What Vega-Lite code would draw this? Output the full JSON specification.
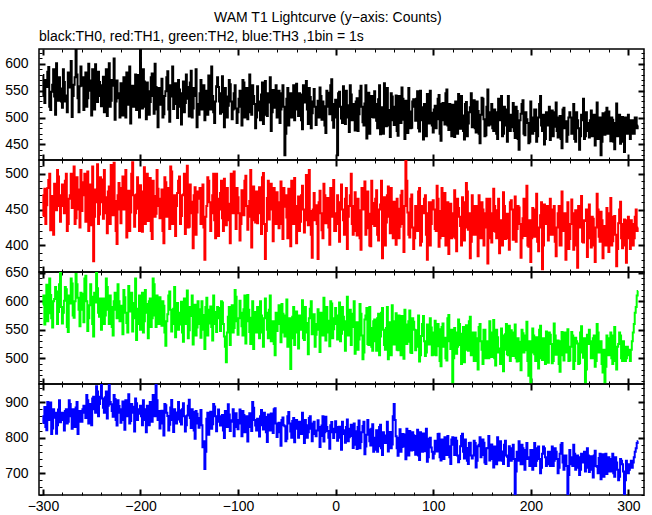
{
"$schema": "https://vega.github.io/schema/vega-lite/v6.json",
"background": "white",
"padding": {"left": 3, "top": 11, "right": 6, "bottom": 2},
"title": {"text": "WAM T1 Lightcurve (y−axis: Counts)", "anchor": "middle", "frame": "bounds", "font": "Liberation Sans", "fontSize": 14, "fontWeight": "normal", "color": "black", "offset": 4, "dx": 3},
"data": {"values": [
{"t":-300,"a":579,"b":441,"c":594,"d":841},{"t":-299,"a":540,"b":470,"c":610,"d":860},{"t":-298,"a":527,"b":479,"c":559,"d":886},{"t":-297,"a":570,"b":430,"c":580,"d":830},{"t":-296,"a":557,"b":456,"c":629,"d":821},{"t":-295,"a":585,"b":480,"c":565,"d":900},{"t":-294,"a":594,"b":491,"c":579,"d":871},{"t":-293,"a":520,"b":500,"c":640,"d":850},{"t":-292,"a":514,"b":421,"c":611,"d":899},{"t":-291,"a":548,"b":445,"c":570,"d":810},
{"t":-290,"a":561,"b":469,"c":554,"d":826},{"t":-289,"a":590,"b":415,"c":600,"d":880},{"t":-288,"a":539,"b":486,"c":604,"d":856},{"t":-287,"a":505,"b":462,"c":625,"d":870},{"t":-286,"a":601,"b":449,"c":617,"d":811},{"t":-285,"a":566,"b":505,"c":560,"d":835},{"t":-284,"a":531,"b":496,"c":581,"d":879},{"t":-283,"a":575,"b":455,"c":630,"d":905},{"t":-282,"a":554,"b":433,"c":651,"d":843},{"t":-281,"a":530,"b":470,"c":590,"d":860},
{"t":-280,"a":518,"b":485,"c":561,"d":870},{"t":-279,"a":590,"b":455,"c":580,"d":850},{"t":-278,"a":566,"b":445,"c":601,"d":820},{"t":-277,"a":530,"b":490,"c":625,"d":875},{"t":-276,"a":541,"b":500,"c":621,"d":880},{"t":-275,"a":510,"b":420,"c":555,"d":840},{"t":-274,"a":584,"b":430,"c":546,"d":845},{"t":-273,"a":560,"b":465,"c":610,"d":905},{"t":-272,"a":556,"b":470,"c":596,"d":895},{"t":-271,"a":605,"b":500,"c":640,"d":860},
{"t":-270,"a":501,"b":452,"c":631,"d":825},{"t":-269,"a":540,"b":475,"c":575,"d":880},{"t":-268,"a":561,"b":510,"c":571,"d":865},{"t":-267,"a":575,"b":430,"c":600,"d":830},{"t":-266,"a":628,"b":438,"c":648,"d":885},{"t":-265,"a":580,"b":495,"c":630,"d":900},{"t":-264,"a":536,"b":478,"c":606,"d":810},{"t":-263,"a":510,"b":450,"c":585,"d":870},{"t":-262,"a":558,"b":425,"c":556,"d":875},{"t":-261,"a":595,"b":505,"c":615,"d":845},
{"t":-260,"a":559,"b":448,"c":613,"d":845},{"t":-259,"a":575,"b":470,"c":585,"d":880},{"t":-258,"a":514,"b":488,"c":563,"d":890},{"t":-257,"a":545,"b":500,"c":640,"d":870},{"t":-256,"a":584,"b":433,"c":645,"d":855},{"t":-255,"a":520,"b":455,"c":600,"d":920},{"t":-254,"a":536,"b":503,"c":548,"d":905},{"t":-253,"a":600,"b":420,"c":570,"d":840},{"t":-252,"a":569,"b":463,"c":593,"d":875},{"t":-251,"a":550,"b":485,"c":630,"d":895},
{"t":-250,"a":504,"b":428,"c":608,"d":835},{"t":-249,"a":590,"b":510,"c":560,"d":910},{"t":-248,"a":552,"b":378,"c":538,"d":915},{"t":-247,"a":515,"b":440,"c":615,"d":880},{"t":-246,"a":599,"b":478,"c":598,"d":870},{"t":-245,"a":560,"b":460,"c":650,"d":945},{"t":-244,"a":529,"b":513,"c":623,"d":930},{"t":-243,"a":585,"b":430,"c":580,"d":860},{"t":-242,"a":566,"b":443,"c":573,"d":895},{"t":-241,"a":540,"b":495,"c":605,"d":915},
{"t":-240,"a":521,"b":492,"c":550,"d":949},{"t":-239,"a":560,"b":460,"c":595,"d":910},{"t":-238,"a":576,"b":437,"c":605,"d":884},{"t":-237,"a":510,"b":505,"c":560,"d":870},{"t":-236,"a":546,"b":467,"c":575,"d":914},{"t":-235,"a":590,"b":445,"c":640,"d":930},{"t":-234,"a":503,"b":417,"c":625,"d":854},{"t":-233,"a":555,"b":475,"c":585,"d":890},{"t":-232,"a":601,"b":482,"c":560,"d":954},{"t":-231,"a":520,"b":430,"c":610,"d":900},
{"t":-230,"a":531,"b":512,"c":590,"d":894},{"t":-229,"a":570,"b":490,"c":555,"d":875},{"t":-228,"a":559,"b":442,"c":540,"d":859},{"t":-227,"a":610,"b":515,"c":600,"d":920},{"t":-226,"a":496,"b":462,"c":615,"d":909},{"t":-225,"a":530,"b":420,"c":585,"d":850},{"t":-224,"a":569,"b":402,"c":570,"d":834},{"t":-223,"a":545,"b":470,"c":630,"d":905},{"t":-222,"a":536,"b":487,"c":600,"d":889},{"t":-221,"a":500,"b":450,"c":565,"d":870},
{"t":-220,"a":564,"b":431,"c":592,"d":842},{"t":-219,"a":530,"b":480,"c":565,"d":880},{"t":-218,"a":504,"b":496,"c":542,"d":902},{"t":-217,"a":575,"b":450,"c":620,"d":850},{"t":-216,"a":549,"b":466,"c":607,"d":822},{"t":-215,"a":500,"b":505,"c":580,"d":905},{"t":-214,"a":584,"b":411,"c":562,"d":877},{"t":-213,"a":560,"b":440,"c":545,"d":860},{"t":-212,"a":524,"b":476,"c":627,"d":922},{"t":-211,"a":595,"b":420,"c":600,"d":840},
{"t":-210,"a":489,"b":446,"c":582,"d":847},{"t":-209,"a":540,"b":500,"c":615,"d":895},{"t":-208,"a":559,"b":516,"c":547,"d":887},{"t":-207,"a":520,"b":470,"c":570,"d":870},{"t":-206,"a":544,"b":426,"c":597,"d":817},{"t":-205,"a":580,"b":445,"c":640,"d":910},{"t":-204,"a":514,"b":471,"c":532,"d":897},{"t":-203,"a":555,"b":495,"c":560,"d":850},{"t":-202,"a":579,"b":451,"c":587,"d":867},{"t":-201,"a":500,"b":420,"c":610,"d":880},
{"t":-200,"a":627,"b":484,"c":550,"d":890},{"t":-199,"a":545,"b":450,"c":590,"d":860},{"t":-198,"a":517,"b":419,"c":615,"d":835},{"t":-197,"a":590,"b":475,"c":545,"d":905},{"t":-196,"a":567,"b":509,"c":565,"d":880},{"t":-195,"a":520,"b":430,"c":620,"d":850},{"t":-194,"a":497,"b":459,"c":595,"d":815},{"t":-193,"a":565,"b":500,"c":580,"d":890},{"t":-192,"a":549,"b":434,"c":535,"d":870},{"t":-191,"a":505,"b":465,"c":600,"d":835},
{"t":-190,"a":529,"b":494,"c":605,"d":900},{"t":-189,"a":575,"b":420,"c":555,"d":880},{"t":-188,"a":582,"b":409,"c":570,"d":845},{"t":-187,"a":540,"b":490,"c":640,"d":920},{"t":-186,"a":507,"b":469,"c":630,"d":885},{"t":-185,"a":600,"b":440,"c":575,"d":860},{"t":-184,"a":557,"b":444,"c":555,"d":950},{"t":-183,"a":515,"b":505,"c":610,"d":905},{"t":-182,"a":482,"b":479,"c":585,"d":850},{"t":-181,"a":555,"b":455,"c":560,"d":875},
{"t":-180,"a":524,"b":438,"c":607,"d":826},{"t":-179,"a":555,"b":465,"c":580,"d":860},{"t":-178,"a":572,"b":478,"c":557,"d":876},{"t":-177,"a":500,"b":420,"c":600,"d":840},{"t":-176,"a":506,"b":403,"c":592,"d":806},{"t":-175,"a":540,"b":495,"c":545,"d":895},{"t":-174,"a":549,"b":488,"c":522,"d":891},{"t":-173,"a":575,"b":440,"c":565,"d":870},{"t":-172,"a":586,"b":463,"c":577,"d":861},{"t":-171,"a":515,"b":480,"c":610,"d":820},
{"t":-170,"a":492,"b":423,"c":617,"d":836},{"t":-169,"a":560,"b":510,"c":585,"d":885},{"t":-168,"a":539,"b":503,"c":547,"d":906},{"t":-167,"a":595,"b":430,"c":560,"d":850},{"t":-166,"a":516,"b":448,"c":587,"d":816},{"t":-165,"a":525,"b":470,"c":625,"d":880},{"t":-164,"a":564,"b":413,"c":537,"d":871},{"t":-163,"a":545,"b":455,"c":575,"d":840},{"t":-162,"a":499,"b":473,"c":597,"d":851},{"t":-161,"a":570,"b":490,"c":550,"d":900},
{"t":-160,"a":552,"b":496,"c":559,"d":877},{"t":-159,"a":520,"b":430,"c":580,"d":845},{"t":-158,"a":487,"b":441,"c":599,"d":837},{"t":-157,"a":545,"b":470,"c":545,"d":880},{"t":-156,"a":567,"b":471,"c":529,"d":897},{"t":-155,"a":510,"b":500,"c":605,"d":860},{"t":-154,"a":527,"b":416,"c":584,"d":817},{"t":-153,"a":580,"b":455,"c":560,"d":835},{"t":-152,"a":557,"b":511,"c":619,"d":862},{"t":-151,"a":535,"b":425,"c":535,"d":890},
{"t":-150,"a":502,"b":426,"c":549,"d":907},{"t":-149,"a":565,"b":485,"c":590,"d":855},{"t":-148,"a":587,"b":461,"c":574,"d":827},{"t":-147,"a":500,"b":445,"c":610,"d":880},{"t":-146,"a":517,"b":396,"c":524,"d":872},{"t":-145,"a":555,"b":470,"c":560,"d":820},{"t":-144,"a":540,"b":481,"c":594,"d":797},{"t":-143,"a":590,"b":415,"c":540,"d":875},{"t":-142,"a":482,"b":446,"c":554,"d":867},{"t":-141,"a":525,"b":475,"c":600,"d":840},
{"t":-140,"a":505,"b":465,"c":586,"d":828},{"t":-139,"a":545,"b":480,"c":560,"d":855},{"t":-138,"a":570,"b":430,"c":536,"d":878},{"t":-137,"a":515,"b":455,"c":600,"d":835},{"t":-136,"a":535,"b":485,"c":576,"d":773},{"t":-135,"a":560,"b":425,"c":550,"d":790},{"t":-134,"a":495,"b":380,"c":516,"d":712},{"t":-133,"a":525,"b":440,"c":590,"d":760},{"t":-132,"a":550,"b":455,"c":606,"d":853},{"t":-131,"a":505,"b":495,"c":540,"d":870},
{"t":-130,"a":578,"b":490,"c":561,"d":808},{"t":-129,"a":540,"b":460,"c":585,"d":840},{"t":-128,"a":515,"b":420,"c":591,"d":873},{"t":-127,"a":595,"b":445,"c":555,"d":825},{"t":-126,"a":540,"b":470,"c":531,"d":838},{"t":-125,"a":510,"b":500,"c":610,"d":895},{"t":-124,"a":490,"b":435,"c":581,"d":888},{"t":-123,"a":530,"b":410,"c":560,"d":860},{"t":-122,"a":558,"b":500,"c":546,"d":818},{"t":-121,"a":575,"b":465,"c":590,"d":845},
{"t":-120,"a":557,"b":413,"c":588,"d":879},{"t":-119,"a":530,"b":450,"c":570,"d":860},{"t":-118,"a":507,"b":473,"c":548,"d":834},{"t":-117,"a":545,"b":490,"c":600,"d":855},{"t":-116,"a":577,"b":438,"c":598,"d":864},{"t":-115,"a":510,"b":420,"c":560,"d":820},{"t":-114,"a":482,"b":493,"c":538,"d":799},{"t":-113,"a":555,"b":465,"c":520,"d":875},{"t":-112,"a":539,"b":428,"c":493,"d":859},{"t":-111,"a":500,"b":480,"c":545,"d":830},
{"t":-110,"a":522,"b":458,"c":573,"d":894},{"t":-109,"a":570,"b":435,"c":590,"d":865},{"t":-108,"a":562,"b":403,"c":523,"d":819},{"t":-107,"a":530,"b":500,"c":575,"d":845},{"t":-106,"a":497,"b":478,"c":593,"d":849},{"t":-105,"a":515,"b":445,"c":545,"d":880},{"t":-104,"a":545,"b":503,"c":553,"d":804},{"t":-103,"a":560,"b":465,"c":620,"d":830},{"t":-102,"a":517,"b":423,"c":608,"d":869},{"t":-101,"a":490,"b":480,"c":565,"d":850},
{"t":-100,"a":510,"b":467,"c":541,"d":824},{"t":-99,"a":535,"b":445,"c":570,"d":850},{"t":-98,"a":550,"b":407,"c":601,"d":879},{"t":-97,"a":520,"b":430,"c":580,"d":840},{"t":-96,"a":485,"b":477,"c":556,"d":804},{"t":-95,"a":570,"b":470,"c":540,"d":875},{"t":-94,"a":565,"b":442,"c":586,"d":864},{"t":-93,"a":500,"b":490,"c":610,"d":815},{"t":-92,"a":530,"b":497,"c":526,"d":844},{"t":-91,"a":555,"b":455,"c":565,"d":860},
{"t":-90,"a":497,"b":422,"c":611,"d":789},{"t":-89,"a":545,"b":440,"c":585,"d":830},{"t":-88,"a":580,"b":462,"c":546,"d":869},{"t":-87,"a":510,"b":505,"c":525,"d":855},{"t":-86,"a":505,"b":397,"c":571,"d":819},{"t":-85,"a":560,"b":435,"c":600,"d":900},{"t":-84,"a":540,"b":482,"c":516,"d":884},{"t":-83,"a":525,"b":460,"c":555,"d":850},{"t":-82,"a":480,"b":432,"c":581,"d":834},{"t":-81,"a":500,"b":475,"c":545,"d":820},
{"t":-80,"a":558,"b":431,"c":590,"d":853},{"t":-79,"a":530,"b":460,"c":560,"d":830},{"t":-78,"a":513,"b":481,"c":535,"d":803},{"t":-77,"a":495,"b":445,"c":600,"d":860},{"t":-76,"a":543,"b":416,"c":575,"d":878},{"t":-75,"a":565,"b":495,"c":545,"d":835},{"t":-74,"a":488,"b":501,"c":520,"d":823},{"t":-73,"a":520,"b":430,"c":570,"d":870},{"t":-72,"a":568,"b":381,"c":605,"d":858},{"t":-71,"a":505,"b":420,"c":580,"d":815},
{"t":-70,"a":503,"b":466,"c":550,"d":788},{"t":-69,"a":545,"b":490,"c":535,"d":865},{"t":-68,"a":528,"b":436,"c":585,"d":843},{"t":-67,"a":575,"b":470,"c":610,"d":820},{"t":-66,"a":475,"b":486,"c":530,"d":868},{"t":-65,"a":510,"b":450,"c":560,"d":845},{"t":-64,"a":551,"b":406,"c":565,"d":813},{"t":-63,"a":530,"b":480,"c":525,"d":880},{"t":-62,"a":518,"b":456,"c":505,"d":883},{"t":-61,"a":560,"b":430,"c":580,"d":840},
{"t":-60,"a":500,"b":474,"c":548,"d":802},{"t":-59,"a":530,"b":445,"c":570,"d":830},{"t":-58,"a":550,"b":424,"c":593,"d":842},{"t":-57,"a":490,"b":460,"c":560,"d":815},{"t":-56,"a":515,"b":489,"c":528,"d":777},{"t":-55,"a":545,"b":430,"c":595,"d":850},{"t":-54,"a":560,"b":409,"c":578,"d":857},{"t":-53,"a":520,"b":480,"c":545,"d":835},{"t":-52,"a":430,"b":454,"c":538,"d":832},{"t":-51,"a":470,"b":470,"c":575,"d":790},
{"t":-50,"a":535,"b":439,"c":603,"d":797},{"t":-49,"a":555,"b":410,"c":520,"d":860},{"t":-48,"a":485,"b":479,"c":553,"d":872},{"t":-47,"a":510,"b":455,"c":570,"d":840},{"t":-46,"a":545,"b":399,"c":481,"d":817},{"t":-45,"a":500,"b":490,"c":535,"d":800},{"t":-44,"a":525,"b":464,"c":573,"d":847},{"t":-43,"a":560,"b":430,"c":590,"d":855},{"t":-42,"a":495,"b":494,"c":523,"d":787},{"t":-41,"a":515,"b":450,"c":560,"d":830},
{"t":-40,"a":563,"b":403,"c":582,"d":850},{"t":-39,"a":525,"b":455,"c":545,"d":825},{"t":-38,"a":503,"b":468,"c":517,"d":800},{"t":-37,"a":545,"b":420,"c":575,"d":845},{"t":-36,"a":543,"b":433,"c":567,"d":830},{"t":-35,"a":495,"b":470,"c":550,"d":810},{"t":-34,"a":478,"b":483,"c":602,"d":870},{"t":-33,"a":560,"b":450,"c":535,"d":835},{"t":-32,"a":528,"b":418,"c":532,"d":785},{"t":-31,"a":540,"b":435,"c":590,"d":850},
{"t":-30,"a":568,"b":498,"c":562,"d":835},{"t":-29,"a":515,"b":470,"c":545,"d":800},{"t":-28,"a":488,"b":428,"c":507,"d":815},{"t":-27,"a":555,"b":505,"c":570,"d":855},{"t":-26,"a":538,"b":448,"c":587,"d":860},{"t":-25,"a":480,"b":415,"c":600,"d":825},{"t":-24,"a":508,"b":383,"c":542,"d":790},{"t":-23,"a":530,"b":450,"c":555,"d":840},{"t":-22,"a":553,"b":473,"c":577,"d":845},{"t":-21,"a":520,"b":435,"c":520,"d":810},
{"t":-20,"a":486,"b":456,"c":541,"d":804},{"t":-19,"a":520,"b":430,"c":560,"d":820},{"t":-18,"a":531,"b":381,"c":586,"d":849},{"t":-17,"a":500,"b":460,"c":550,"d":830},{"t":-16,"a":556,"b":476,"c":511,"d":774},{"t":-15,"a":540,"b":445,"c":580,"d":805},{"t":-14,"a":496,"b":421,"c":571,"d":834},{"t":-13,"a":530,"b":410,"c":540,"d":860},{"t":-12,"a":521,"b":486,"c":606,"d":789},{"t":-11,"a":485,"b":470,"c":565,"d":815},
{"t":-10,"a":471,"b":431,"c":531,"d":859},{"t":-9,"a":550,"b":455,"c":590,"d":830},{"t":-8,"a":546,"b":466,"c":566,"d":819},{"t":-7,"a":520,"b":425,"c":545,"d":800},{"t":-6,"a":506,"b":401,"c":521,"d":769},{"t":-5,"a":560,"b":480,"c":600,"d":835},{"t":-4,"a":571,"b":451,"c":596,"d":844},{"t":-3,"a":495,"b":440,"c":535,"d":815},{"t":-2,"a":481,"b":491,"c":551,"d":799},{"t":-1,"a":525,"b":420,"c":570,"d":825},
{"t":0,"a":533,"b":420,"c":588,"d":846},{"t":1,"a":500,"b":445,"c":560,"d":815},{"t":2,"a":430,"b":470,"c":533,"d":791},{"t":3,"a":545,"b":430,"c":575,"d":830},{"t":4,"a":548,"b":405,"c":598,"d":831},{"t":5,"a":520,"b":460,"c":530,"d":800},{"t":6,"a":498,"b":485,"c":543,"d":766},{"t":7,"a":490,"b":450,"c":590,"d":845},{"t":8,"a":558,"b":435,"c":573,"d":821},{"t":9,"a":530,"b":415,"c":550,"d":810},
{"t":10,"a":488,"b":465,"c":513,"d":786},{"t":11,"a":550,"b":480,"c":565,"d":830},{"t":12,"a":523,"b":395,"c":608,"d":851},{"t":13,"a":500,"b":440,"c":540,"d":790},{"t":14,"a":473,"b":455,"c":563,"d":801},{"t":15,"a":560,"b":470,"c":585,"d":825},{"t":16,"a":543,"b":500,"c":523,"d":836},{"t":17,"a":495,"b":430,"c":555,"d":805},{"t":18,"a":518,"b":415,"c":578,"d":771},{"t":19,"a":525,"b":455,"c":600,"d":840},
{"t":20,"a":476,"b":474,"c":508,"d":818},{"t":21,"a":530,"b":420,"c":560,"d":780},{"t":22,"a":536,"b":414,"c":563,"d":768},{"t":23,"a":475,"b":465,"c":515,"d":830},{"t":24,"a":506,"b":449,"c":533,"d":848},{"t":25,"a":550,"b":410,"c":595,"d":770},{"t":26,"a":559,"b":394,"c":578,"d":788},{"t":27,"a":520,"b":480,"c":540,"d":815},{"t":28,"a":491,"b":464,"c":498,"d":833},{"t":29,"a":485,"b":450,"c":510,"d":845},
{"t":30,"a":526,"b":489,"c":568,"d":753},{"t":31,"a":560,"b":415,"c":575,"d":775},{"t":32,"a":461,"b":424,"c":588,"d":808},{"t":33,"a":535,"b":475,"c":525,"d":850},{"t":34,"a":546,"b":444,"c":523,"d":823},{"t":35,"a":470,"b":400,"c":590,"d":790},{"t":36,"a":501,"b":399,"c":553,"d":778},{"t":37,"a":540,"b":490,"c":520,"d":825},{"t":38,"a":531,"b":459,"c":513,"d":838},{"t":39,"a":500,"b":430,"c":565,"d":760},
{"t":40,"a":549,"b":427,"c":568,"d":766},{"t":41,"a":525,"b":465,"c":530,"d":800},{"t":42,"a":494,"b":477,"c":513,"d":821},{"t":43,"a":480,"b":415,"c":570,"d":760},{"t":44,"a":534,"b":407,"c":578,"d":776},{"t":45,"a":560,"b":450,"c":505,"d":830},{"t":46,"a":469,"b":457,"c":538,"d":836},{"t":47,"a":500,"b":490,"c":580,"d":770},{"t":48,"a":519,"b":382,"c":588,"d":751},{"t":49,"a":470,"b":420,"c":550,"d":815},
{"t":50,"a":564,"b":467,"c":523,"d":806},{"t":51,"a":535,"b":400,"c":515,"d":785},{"t":52,"a":484,"b":432,"c":553,"d":796},{"t":53,"a":555,"b":470,"c":590,"d":845},{"t":54,"a":514,"b":482,"c":498,"d":761},{"t":55,"a":485,"b":440,"c":535,"d":805},{"t":56,"a":464,"b":417,"c":563,"d":816},{"t":57,"a":545,"b":480,"c":505,"d":770},{"t":58,"a":539,"b":447,"c":593,"d":781},{"t":59,"a":495,"b":410,"c":565,"d":860},
{"t":60,"a":486,"b":461,"c":524,"d":895},{"t":61,"a":520,"b":425,"c":555,"d":850},{"t":62,"a":541,"b":401,"c":579,"d":804},{"t":63,"a":475,"b":465,"c":515,"d":770},{"t":64,"a":466,"b":451,"c":514,"d":749},{"t":65,"a":540,"b":410,"c":575,"d":800},{"t":66,"a":521,"b":426,"c":549,"d":824},{"t":67,"a":490,"b":470,"c":505,"d":760},{"t":68,"a":556,"b":476,"c":574,"d":774},{"t":69,"a":535,"b":430,"c":550,"d":810},
{"t":70,"a":496,"b":391,"c":499,"d":809},{"t":71,"a":460,"b":455,"c":585,"d":775},{"t":72,"a":531,"b":520,"c":559,"d":739},{"t":73,"a":520,"b":490,"c":525,"d":825},{"t":74,"a":471,"b":446,"c":529,"d":799},{"t":75,"a":555,"b":415,"c":565,"d":750},{"t":76,"a":511,"b":411,"c":584,"d":819},{"t":77,"a":480,"b":465,"c":510,"d":800},{"t":78,"a":481,"b":471,"c":509,"d":764},{"t":79,"a":530,"b":425,"c":570,"d":815},
{"t":80,"a":534,"b":395,"c":564,"d":807},{"t":81,"a":520,"b":410,"c":550,"d":765},{"t":82,"a":494,"b":455,"c":514,"d":752},{"t":83,"a":535,"b":450,"c":520,"d":805},{"t":84,"a":549,"b":420,"c":549,"d":822},{"t":85,"a":480,"b":475,"c":575,"d":750},{"t":86,"a":474,"b":480,"c":494,"d":737},{"t":87,"a":550,"b":400,"c":505,"d":815},{"t":88,"a":519,"b":405,"c":539,"d":787},{"t":89,"a":495,"b":455,"c":560,"d":760},
{"t":90,"a":459,"b":445,"c":574,"d":812},{"t":91,"a":525,"b":465,"c":530,"d":790},{"t":92,"a":524,"b":470,"c":504,"d":762},{"t":93,"a":465,"b":415,"c":510,"d":825},{"t":94,"a":544,"b":380,"c":559,"d":732},{"t":95,"a":530,"b":445,"c":550,"d":745},{"t":96,"a":489,"b":460,"c":524,"d":797},{"t":97,"a":550,"b":400,"c":570,"d":800},{"t":98,"a":509,"b":430,"c":554,"d":772},{"t":99,"a":485,"b":460,"c":505,"d":760},
{"t":100,"a":472,"b":463,"c":506,"d":741},{"t":101,"a":515,"b":450,"c":545,"d":755},{"t":102,"a":522,"b":423,"c":566,"d":791},{"t":103,"a":480,"b":420,"c":505,"d":790},{"t":104,"a":497,"b":483,"c":521,"d":761},{"t":105,"a":535,"b":465,"c":560,"d":810},{"t":106,"a":542,"b":398,"c":551,"d":811},{"t":107,"a":470,"b":410,"c":495,"d":745},{"t":108,"a":457,"b":448,"c":486,"d":736},{"t":109,"a":525,"b":480,"c":555,"d":795},
{"t":110,"a":527,"b":413,"c":561,"d":786},{"t":111,"a":495,"b":430,"c":520,"d":740},{"t":112,"a":487,"b":473,"c":536,"d":801},{"t":113,"a":545,"b":400,"c":500,"d":775},{"t":114,"a":552,"b":428,"c":496,"d":751},{"t":115,"a":485,"b":460,"c":570,"d":805},{"t":116,"a":477,"b":388,"c":576,"d":776},{"t":117,"a":525,"b":445,"c":530,"d":745},{"t":118,"a":512,"b":458,"c":516,"d":726},{"t":119,"a":465,"b":410,"c":550,"d":795},
{"t":120,"a":524,"b":412,"c":457,"d":801},{"t":121,"a":480,"b":445,"c":500,"d":780},{"t":122,"a":464,"b":477,"c":553,"d":751},{"t":123,"a":530,"b":410,"c":545,"d":800},{"t":124,"a":509,"b":392,"c":508,"d":791},{"t":125,"a":470,"b":465,"c":520,"d":750},{"t":126,"a":544,"b":452,"c":568,"d":731},{"t":127,"a":515,"b":440,"c":560,"d":740},{"t":128,"a":479,"b":427,"c":523,"d":776},{"t":129,"a":540,"b":400,"c":490,"d":805},
{"t":130,"a":504,"b":467,"c":543,"d":811},{"t":131,"a":475,"b":460,"c":555,"d":760},{"t":132,"a":459,"b":407,"c":493,"d":741},{"t":133,"a":525,"b":425,"c":515,"d":795},{"t":134,"a":529,"b":487,"c":558,"d":771},{"t":135,"a":465,"b":475,"c":535,"d":735},{"t":136,"a":489,"b":422,"c":513,"d":726},{"t":137,"a":510,"b":445,"c":565,"d":785},{"t":138,"a":519,"b":382,"c":573,"d":786},{"t":139,"a":545,"b":405,"c":505,"d":750},
{"t":140,"a":482,"b":470,"c":545,"d":741},{"t":141,"a":515,"b":455,"c":515,"d":750},{"t":142,"a":532,"b":415,"c":495,"d":791},{"t":143,"a":480,"b":415,"c":545,"d":785},{"t":144,"a":472,"b":455,"c":535,"d":716},{"t":145,"a":530,"b":425,"c":495,"d":735},{"t":146,"a":512,"b":385,"c":480,"d":776},{"t":147,"a":470,"b":470,"c":555,"d":780},{"t":148,"a":452,"b":440,"c":560,"d":801},{"t":149,"a":505,"b":410,"c":530,"d":745},
{"t":150,"a":537,"b":460,"c":515,"d":751},{"t":151,"a":535,"b":450,"c":490,"d":795},{"t":152,"a":497,"b":400,"c":550,"d":786},{"t":153,"a":465,"b":425,"c":550,"d":730},{"t":154,"a":467,"b":445,"c":500,"d":726},{"t":155,"a":520,"b":465,"c":515,"d":770},{"t":156,"a":552,"b":375,"c":530,"d":771},{"t":157,"a":485,"b":410,"c":500,"d":805},{"t":158,"a":487,"b":465,"c":565,"d":736},{"t":159,"a":510,"b":445,"c":545,"d":745},
{"t":160,"a":525,"b":404,"c":502,"d":781},{"t":161,"a":480,"b":420,"c":530,"d":740},{"t":162,"a":475,"b":479,"c":567,"d":716},{"t":163,"a":515,"b":455,"c":500,"d":775},{"t":164,"a":510,"b":419,"c":487,"d":771},{"t":165,"a":470,"b":410,"c":550,"d":725},{"t":166,"a":460,"b":449,"c":537,"d":801},{"t":167,"a":535,"b":465,"c":510,"d":765},{"t":168,"a":500,"b":389,"c":517,"d":736},{"t":169,"a":495,"b":435,"c":490,"d":790},
{"t":170,"a":540,"b":434,"c":552,"d":761},{"t":171,"a":465,"b":400,"c":540,"d":735},{"t":172,"a":470,"b":474,"c":477,"d":726},{"t":173,"a":520,"b":455,"c":515,"d":780},{"t":174,"a":515,"b":409,"c":542,"d":791},{"t":175,"a":485,"b":425,"c":560,"d":750},{"t":176,"a":455,"b":444,"c":507,"d":746},{"t":177,"a":540,"b":410,"c":505,"d":720},{"t":178,"a":505,"b":394,"c":557,"d":776},{"t":179,"a":475,"b":460,"c":495,"d":770},
{"t":180,"a":482,"b":463,"c":549,"d":735},{"t":181,"a":505,"b":450,"c":525,"d":765},{"t":182,"a":527,"b":408,"c":504,"d":780},{"t":183,"a":475,"b":420,"c":545,"d":740},{"t":184,"a":462,"b":468,"c":559,"d":637},{"t":185,"a":520,"b":405,"c":500,"d":705},{"t":186,"a":512,"b":423,"c":494,"d":760},{"t":187,"a":460,"b":455,"c":535,"d":735},{"t":188,"a":440,"b":453,"c":529,"d":790},{"t":189,"a":495,"b":430,"c":495,"d":760},
{"t":190,"a":507,"b":383,"c":479,"d":725},{"t":191,"a":525,"b":410,"c":550,"d":780},{"t":192,"a":532,"b":438,"c":544,"d":770},{"t":193,"a":470,"b":465,"c":510,"d":725},{"t":194,"a":467,"b":413,"c":514,"d":710},{"t":195,"a":510,"b":440,"c":540,"d":765},{"t":196,"a":497,"b":483,"c":564,"d":785},{"t":197,"a":490,"b":400,"c":495,"d":740},{"t":198,"a":452,"b":398,"c":469,"d":745},{"t":199,"a":455,"b":435,"c":530,"d":720},
{"t":200,"a":530,"b":377,"c":455,"d":765},{"t":201,"a":500,"b":410,"c":510,"d":735},{"t":202,"a":470,"b":452,"c":552,"d":710},{"t":203,"a":475,"b":440,"c":540,"d":765},{"t":204,"a":515,"b":412,"c":507,"d":785},{"t":205,"a":515,"b":450,"c":495,"d":720},{"t":206,"a":455,"b":472,"c":537,"d":735},{"t":207,"a":465,"b":405,"c":525,"d":770},{"t":208,"a":500,"b":392,"c":482,"d":775},{"t":209,"a":525,"b":425,"c":550,"d":740},
{"t":210,"a":540,"b":442,"c":557,"d":700},{"t":211,"a":485,"b":460,"c":500,"d":715},{"t":212,"a":475,"b":367,"c":497,"d":755},{"t":213,"a":505,"b":400,"c":535,"d":775},{"t":214,"a":450,"b":457,"c":527,"d":770},{"t":215,"a":460,"b":430,"c":490,"d":745},{"t":216,"a":510,"b":432,"c":547,"d":720},{"t":217,"a":495,"b":455,"c":520,"d":725},{"t":218,"a":485,"b":407,"c":492,"d":760},{"t":219,"a":520,"b":415,"c":545,"d":760},
{"t":220,"a":458,"b":465,"c":541,"d":720},{"t":221,"a":495,"b":435,"c":525,"d":750},{"t":222,"a":513,"b":415,"c":491,"d":775},{"t":223,"a":465,"b":450,"c":495,"d":720},{"t":224,"a":483,"b":455,"c":561,"d":735},{"t":225,"a":510,"b":405,"c":540,"d":770},{"t":226,"a":528,"b":385,"c":506,"d":760},{"t":227,"a":475,"b":425,"c":515,"d":740},{"t":228,"a":463,"b":445,"c":531,"d":700},{"t":229,"a":500,"b":455,"c":490,"d":715},
{"t":230,"a":503,"b":400,"c":476,"d":755},{"t":231,"a":460,"b":400,"c":530,"d":780},{"t":232,"a":443,"b":475,"c":546,"d":785},{"t":233,"a":515,"b":435,"c":505,"d":730},{"t":234,"a":518,"b":420,"c":496,"d":710},{"t":235,"a":480,"b":445,"c":545,"d":750},{"t":236,"a":493,"b":380,"c":521,"d":750},{"t":237,"a":455,"b":415,"c":510,"d":720},{"t":238,"a":468,"b":460,"c":551,"d":637},{"t":239,"a":500,"b":395,"c":495,"d":695},
{"t":240,"a":510,"b":409,"c":496,"d":765},{"t":241,"a":500,"b":430,"c":520,"d":745},{"t":242,"a":470,"b":464,"c":546,"d":725},{"t":243,"a":470,"b":445,"c":540,"d":720},{"t":244,"a":525,"b":394,"c":481,"d":780},{"t":245,"a":460,"b":410,"c":495,"d":755},{"t":246,"a":455,"b":449,"c":536,"d":710},{"t":247,"a":510,"b":400,"c":530,"d":715},{"t":248,"a":495,"b":369,"c":526,"d":750},{"t":249,"a":480,"b":455,"c":490,"d":745},
{"t":250,"a":440,"b":439,"c":491,"d":695},{"t":251,"a":465,"b":425,"c":545,"d":710},{"t":252,"a":505,"b":469,"c":556,"d":755},{"t":253,"a":495,"b":405,"c":510,"d":730},{"t":254,"a":535,"b":404,"c":501,"d":740},{"t":255,"a":460,"b":435,"c":535,"d":760},{"t":256,"a":465,"b":434,"c":455,"d":705},{"t":257,"a":510,"b":450,"c":480,"d":715},{"t":258,"a":490,"b":384,"c":541,"d":770},{"t":259,"a":475,"b":410,"c":525,"d":750},
{"t":260,"a":463,"b":457,"c":550,"d":703},{"t":261,"a":495,"b":415,"c":530,"d":740},{"t":262,"a":513,"b":397,"c":500,"d":748},{"t":263,"a":465,"b":440,"c":500,"d":710},{"t":264,"a":488,"b":437,"c":535,"d":688},{"t":265,"a":505,"b":400,"c":540,"d":750},{"t":266,"a":448,"b":377,"c":485,"d":763},{"t":267,"a":475,"b":425,"c":495,"d":720},{"t":268,"a":528,"b":472,"c":560,"d":718},{"t":269,"a":460,"b":450,"c":545,"d":700},
{"t":270,"a":473,"b":412,"c":510,"d":743},{"t":271,"a":500,"b":405,"c":520,"d":755},{"t":272,"a":430,"b":447,"c":530,"d":683},{"t":273,"a":455,"b":435,"c":490,"d":715},{"t":274,"a":508,"b":382,"c":475,"d":753},{"t":275,"a":490,"b":415,"c":515,"d":690},{"t":276,"a":468,"b":427,"c":455,"d":733},{"t":277,"a":510,"b":400,"c":485,"d":755},{"t":278,"a":518,"b":452,"c":540,"d":698},{"t":279,"a":470,"b":445,"c":535,"d":705},
{"t":280,"a":511,"b":391,"c":505,"d":745},{"t":281,"a":470,"b":430,"c":530,"d":715},{"t":282,"a":456,"b":466,"c":545,"d":705},{"t":283,"a":500,"b":400,"c":500,"d":740},{"t":284,"a":496,"b":406,"c":490,"d":755},{"t":285,"a":455,"b":440,"c":540,"d":700},{"t":286,"a":441,"b":441,"c":555,"d":690},{"t":287,"a":490,"b":415,"c":495,"d":745},{"t":288,"a":526,"b":371,"c":480,"d":730},{"t":289,"a":465,"b":395,"c":520,"d":710},
{"t":290,"a":486,"b":431,"c":525,"d":680},{"t":291,"a":505,"b":450,"c":545,"d":690},{"t":292,"a":451,"b":461,"c":540,"d":740},{"t":293,"a":480,"b":410,"c":500,"d":735},{"t":294,"a":501,"b":396,"c":495,"d":725},{"t":295,"a":455,"b":430,"c":530,"d":705},{"t":296,"a":436,"b":436,"c":520,"d":637},{"t":297,"a":500,"b":400,"c":495,"d":680},{"t":298,"a":491,"b":376,"c":500,"d":735},{"t":299,"a":470,"b":435,"c":520,"d":725},
{"t":300,"a":505,"b":440,"c":515,"d":700},{"t":301,"a":480,"b":410,"c":505,"d":710},{"t":302,"a":460,"b":395,"c":495,"d":725},{"t":303,"a":495,"b":435,"c":515,"d":735},{"t":304,"a":495,"b":430,"c":530,"d":715},{"t":305,"a":470,"b":400,"c":545,"d":730},{"t":306,"a":470,"b":410,"c":560,"d":745},{"t":307,"a":500,"b":440,"c":580,"d":760},{"t":308,"a":500,"b":450,"c":590,"d":770},{"t":309,"a":480,"b":420,"c":610,"d":785},{"t":310,"a":485,"b":425,"c":618,"d":790}
]},
"spacing": 0,
"bounds": "flush",
"vconcat": [
{
"width": 605, "height": 111,
"title": {"text": "black:TH0, red:TH1, green:TH2, blue:TH3 ,1bin = 1s", "anchor": "start", "frame": "group", "font": "Liberation Sans", "fontSize": 14, "fontWeight": "normal", "color": "black", "offset": 4},
"layer": [
{"mark": {"type": "line", "color": "#000000", "strokeWidth": 2, "interpolate": "step", "clip": true},
 "encoding": {
 "x": {"field": "t", "type": "quantitative", "scale": {"domain": [-304, 316], "nice": false, "zero": false}, "axis": {"orient": "bottom", "values": [-300,-200,-100,0,100,200,300], "offset": -6, "tickSize": 6, "tickWidth": 2, "title": null}},
 "y": {"field": "a", "type": "quantitative", "scale": {"domain": [421, 627.5], "nice": false, "zero": false}, "axis": {"orient": "left", "values": [450,500,550,600], "offset": -6, "tickSize": 6, "tickWidth": 2, "labels": true, "labelPadding": 11, "title": null}}}},
{"mark": {"type": "line", "opacity": 0, "clip": true},
 "encoding": {
 "x": {"field": "t", "type": "quantitative", "scale": {"domain": [-304, 316], "nice": false, "zero": false}, "axis": {"orient": "top", "values": [-300,-200,-100,0,100,200,300], "offset": -6, "tickSize": 6, "tickWidth": 2, "title": null}},
 "y": {"field": "a", "type": "quantitative", "scale": {"domain": [421, 627.5], "nice": false, "zero": false}, "axis": {"orient": "right", "values": [450,500,550,600], "offset": -6, "tickSize": 6, "tickWidth": 2, "title": null}}}},
{"mark": {"type": "line", "opacity": 0, "clip": true},
 "encoding": {
 "x": {"field": "t", "type": "quantitative", "scale": {"domain": [-304, 316], "nice": false, "zero": false}, "axis": {"orient": "bottom", "values": [-280,-260,-240,-220,-180,-160,-140,-120,-80,-60,-40,-20,20,40,60,80,120,140,160,180,220,240,260,280], "offset": -3, "tickSize": 3, "tickWidth": 1, "title": null}},
 "y": {"field": "a", "type": "quantitative", "scale": {"domain": [421, 627.5], "nice": false, "zero": false}, "axis": {"orient": "left", "values": [430,440,460,470,480,490,510,520,530,540,560,570,580,590,610,620], "offset": -3, "tickSize": 3, "tickWidth": 1, "title": null}}}},
{"mark": {"type": "line", "opacity": 0, "clip": true},
 "encoding": {
 "x": {"field": "t", "type": "quantitative", "scale": {"domain": [-304, 316], "nice": false, "zero": false}, "axis": {"orient": "top", "values": [-280,-260,-240,-220,-180,-160,-140,-120,-80,-60,-40,-20,20,40,60,80,120,140,160,180,220,240,260,280], "offset": -3, "tickSize": 3, "tickWidth": 1, "title": null}},
 "y": {"field": "a", "type": "quantitative", "scale": {"domain": [421, 627.5], "nice": false, "zero": false}, "axis": {"orient": "right", "values": [430,440,460,470,480,490,510,520,530,540,560,570,580,590,610,620], "offset": -3, "tickSize": 3, "tickWidth": 1, "title": null}}}}
],
"resolve": {"axis": {"x": "independent", "y": "independent"}}
},
{
"width": 605, "height": 112,
"layer": [
{"mark": {"type": "line", "color": "#ff0000", "strokeWidth": 2, "interpolate": "step", "clip": true},
 "encoding": {
 "x": {"field": "t", "type": "quantitative", "scale": {"domain": [-304, 316], "nice": false, "zero": false}, "axis": {"orient": "bottom", "values": [-300,-200,-100,0,100,200,300], "offset": -6, "tickSize": 6, "tickWidth": 2, "title": null}},
 "y": {"field": "b", "type": "quantitative", "scale": {"domain": [363, 519], "nice": false, "zero": false}, "axis": {"orient": "left", "values": [400,450,500], "offset": -6, "tickSize": 6, "tickWidth": 2, "labels": true, "labelPadding": 11, "title": null}}}},
{"mark": {"type": "line", "opacity": 0, "clip": true},
 "encoding": {
 "x": {"field": "t", "type": "quantitative", "scale": {"domain": [-304, 316], "nice": false, "zero": false}, "axis": {"orient": "top", "values": [-300,-200,-100,0,100,200,300], "offset": -6, "tickSize": 6, "tickWidth": 2, "title": null}},
 "y": {"field": "b", "type": "quantitative", "scale": {"domain": [363, 519], "nice": false, "zero": false}, "axis": {"orient": "right", "values": [400,450,500], "offset": -6, "tickSize": 6, "tickWidth": 2, "title": null}}}},
{"mark": {"type": "line", "opacity": 0, "clip": true},
 "encoding": {
 "x": {"field": "t", "type": "quantitative", "scale": {"domain": [-304, 316], "nice": false, "zero": false}, "axis": {"orient": "bottom", "values": [-280,-260,-240,-220,-180,-160,-140,-120,-80,-60,-40,-20,20,40,60,80,120,140,160,180,220,240,260,280], "offset": -3, "tickSize": 3, "tickWidth": 1, "title": null}},
 "y": {"field": "b", "type": "quantitative", "scale": {"domain": [363, 519], "nice": false, "zero": false}, "axis": {"orient": "left", "values": [370,380,390,410,420,430,440,460,470,480,490,510], "offset": -3, "tickSize": 3, "tickWidth": 1, "title": null}}}},
{"mark": {"type": "line", "opacity": 0, "clip": true},
 "encoding": {
 "x": {"field": "t", "type": "quantitative", "scale": {"domain": [-304, 316], "nice": false, "zero": false}, "axis": {"orient": "top", "values": [-280,-260,-240,-220,-180,-160,-140,-120,-80,-60,-40,-20,20,40,60,80,120,140,160,180,220,240,260,280], "offset": -3, "tickSize": 3, "tickWidth": 1, "title": null}},
 "y": {"field": "b", "type": "quantitative", "scale": {"domain": [363, 519], "nice": false, "zero": false}, "axis": {"orient": "right", "values": [370,380,390,410,420,430,440,460,470,480,490,510], "offset": -3, "tickSize": 3, "tickWidth": 1, "title": null}}}}
],
"resolve": {"axis": {"x": "independent", "y": "independent"}}
},
{
"width": 605, "height": 112,
"layer": [
{"mark": {"type": "line", "color": "#00ff00", "strokeWidth": 2, "interpolate": "step", "clip": true},
 "encoding": {
 "x": {"field": "t", "type": "quantitative", "scale": {"domain": [-304, 316], "nice": false, "zero": false}, "axis": {"orient": "bottom", "values": [-300,-200,-100,0,100,200,300], "offset": -6, "tickSize": 6, "tickWidth": 2, "title": null}},
 "y": {"field": "c", "type": "quantitative", "scale": {"domain": [454.7, 651.4], "nice": false, "zero": false}, "axis": {"orient": "left", "values": [500,550,600,650], "offset": -6, "tickSize": 6, "tickWidth": 2, "labels": true, "labelPadding": 11, "title": null}}}},
{"mark": {"type": "line", "opacity": 0, "clip": true},
 "encoding": {
 "x": {"field": "t", "type": "quantitative", "scale": {"domain": [-304, 316], "nice": false, "zero": false}, "axis": {"orient": "top", "values": [-300,-200,-100,0,100,200,300], "offset": -6, "tickSize": 6, "tickWidth": 2, "title": null}},
 "y": {"field": "c", "type": "quantitative", "scale": {"domain": [454.7, 651.4], "nice": false, "zero": false}, "axis": {"orient": "right", "values": [500,550,600,650], "offset": -6, "tickSize": 6, "tickWidth": 2, "title": null}}}},
{"mark": {"type": "line", "opacity": 0, "clip": true},
 "encoding": {
 "x": {"field": "t", "type": "quantitative", "scale": {"domain": [-304, 316], "nice": false, "zero": false}, "axis": {"orient": "bottom", "values": [-280,-260,-240,-220,-180,-160,-140,-120,-80,-60,-40,-20,20,40,60,80,120,140,160,180,220,240,260,280], "offset": -3, "tickSize": 3, "tickWidth": 1, "title": null}},
 "y": {"field": "c", "type": "quantitative", "scale": {"domain": [454.7, 651.4], "nice": false, "zero": false}, "axis": {"orient": "left", "values": [460,470,480,490,510,520,530,540,560,570,580,590,610,620,630,640], "offset": -3, "tickSize": 3, "tickWidth": 1, "title": null}}}},
{"mark": {"type": "line", "opacity": 0, "clip": true},
 "encoding": {
 "x": {"field": "t", "type": "quantitative", "scale": {"domain": [-304, 316], "nice": false, "zero": false}, "axis": {"orient": "top", "values": [-280,-260,-240,-220,-180,-160,-140,-120,-80,-60,-40,-20,20,40,60,80,120,140,160,180,220,240,260,280], "offset": -3, "tickSize": 3, "tickWidth": 1, "title": null}},
 "y": {"field": "c", "type": "quantitative", "scale": {"domain": [454.7, 651.4], "nice": false, "zero": false}, "axis": {"orient": "right", "values": [460,470,480,490,510,520,530,540,560,570,580,590,610,620,630,640], "offset": -3, "tickSize": 3, "tickWidth": 1, "title": null}}}}
],
"resolve": {"axis": {"x": "independent", "y": "independent"}}
},
{
"width": 605, "height": 111,
"layer": [
{"mark": {"type": "line", "color": "#0000ff", "strokeWidth": 2, "interpolate": "step", "clip": true},
 "encoding": {
 "x": {"field": "t", "type": "quantitative", "scale": {"domain": [-304, 316], "nice": false, "zero": false}, "axis": {"orient": "bottom", "values": [-300,-200,-100,0,100,200,300], "offset": -6, "tickSize": 6, "tickWidth": 2, "labels": true, "labelPadding": 4, "title": null}},
 "y": {"field": "d", "type": "quantitative", "scale": {"domain": [638.6, 951], "nice": false, "zero": false}, "axis": {"orient": "left", "values": [700,800,900], "offset": -6, "tickSize": 6, "tickWidth": 2, "labels": true, "labelPadding": 11, "title": null}}}},
{"mark": {"type": "line", "opacity": 0, "clip": true},
 "encoding": {
 "x": {"field": "t", "type": "quantitative", "scale": {"domain": [-304, 316], "nice": false, "zero": false}, "axis": {"orient": "top", "values": [-300,-200,-100,0,100,200,300], "offset": -6, "tickSize": 6, "tickWidth": 2, "title": null}},
 "y": {"field": "d", "type": "quantitative", "scale": {"domain": [638.6, 951], "nice": false, "zero": false}, "axis": {"orient": "right", "values": [700,800,900], "offset": -6, "tickSize": 6, "tickWidth": 2, "title": null}}}},
{"mark": {"type": "line", "opacity": 0, "clip": true},
 "encoding": {
 "x": {"field": "t", "type": "quantitative", "scale": {"domain": [-304, 316], "nice": false, "zero": false}, "axis": {"orient": "bottom", "values": [-280,-260,-240,-220,-180,-160,-140,-120,-80,-60,-40,-20,20,40,60,80,120,140,160,180,220,240,260,280], "offset": -3, "tickSize": 3, "tickWidth": 1, "title": null}},
 "y": {"field": "d", "type": "quantitative", "scale": {"domain": [638.6, 951], "nice": false, "zero": false}, "axis": {"orient": "left", "values": [640,660,680,720,740,760,780,820,840,860,880,920,940], "offset": -3, "tickSize": 3, "tickWidth": 1, "title": null}}}},
{"mark": {"type": "line", "opacity": 0, "clip": true},
 "encoding": {
 "x": {"field": "t", "type": "quantitative", "scale": {"domain": [-304, 316], "nice": false, "zero": false}, "axis": {"orient": "top", "values": [-280,-260,-240,-220,-180,-160,-140,-120,-80,-60,-40,-20,20,40,60,80,120,140,160,180,220,240,260,280], "offset": -3, "tickSize": 3, "tickWidth": 1, "title": null}},
 "y": {"field": "d", "type": "quantitative", "scale": {"domain": [638.6, 951], "nice": false, "zero": false}, "axis": {"orient": "right", "values": [640,660,680,720,740,760,780,820,840,860,880,920,940], "offset": -3, "tickSize": 3, "tickWidth": 1, "title": null}}}}
],
"resolve": {"axis": {"x": "independent", "y": "independent"}}
}
],
"config": {
 "view": {"stroke": "black", "strokeWidth": 1.5},
 "axis": {"domain": false, "grid": false, "labels": false, "tickColor": "black", "labelColor": "black", "labelFont": "Liberation Sans", "labelFontSize": 14, "labelFlush": false, "labelOverlap": false}
}
}
